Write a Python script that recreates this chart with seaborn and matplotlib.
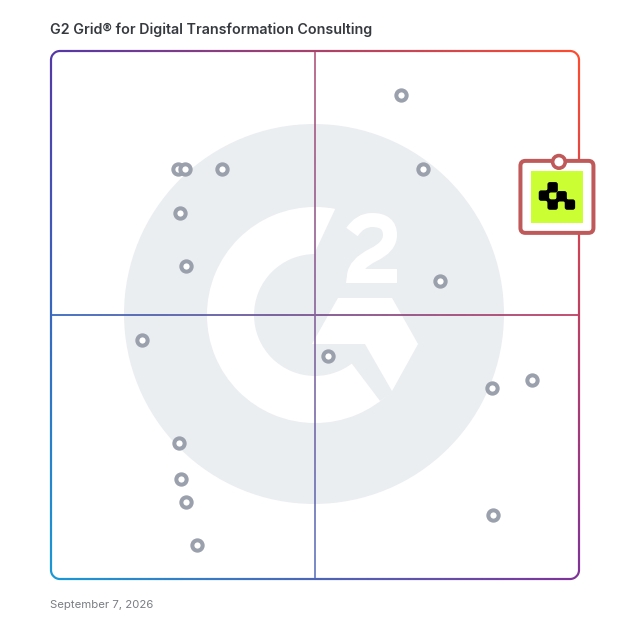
# G2 Grid for Digital Transformation Consulting

import numpy as np
import pandas as pd
import seaborn as sns
import matplotlib.pyplot as plt
from matplotlib.patches import Circle, FancyBboxPatch, PathPatch, Polygon, Rectangle, Wedge
from matplotlib.path import Path

# Product positions (0-100 on both axes)
satisfaction = [66.3, 70.5, 24.1, 25.4, 32.4, 24.4, 25.6, 73.7, 17.2, 52.5, 91.1, 83.6, 24.3, 24.6, 25.6, 83.7, 27.7]
market_presence = [91.7, 77.7, 77.7, 77.7, 77.7, 69.3, 59.3, 56.4, 45.3, 42.2, 37.7, 36.2, 25.8, 18.9, 14.6, 12.1, 6.4]
featured_satisfaction = [96.2]
featured_presence = [79.0]

title_text = 'G2 Grid® for Digital Transformation Consulting'
date_text = 'September 7, 2026'

SIZE = 628
BOX_LEFT, BOX_RIGHT = 51, 579
BOX_TOP, BOX_BOTTOM = 51, 579
SCALE = (BOX_RIGHT - BOX_LEFT) / 100
CARD_RED = '#c05a5a'
WATERMARK = '#ebeef1'

sns.set_theme(style='white')
plt.rcParams['font.family'] = ['Inter', 'DejaVu Sans']

fig = plt.figure(figsize=(SIZE / 100, SIZE / 100), dpi=100, facecolor='white')

# background layer works in pixels, y going down
bg = fig.add_axes([0, 0, 1, 1])
bg.set_xlim(0, SIZE)
bg.set_ylim(SIZE, 0)
bg.axis('off')

# G2 watermark
bg.add_patch(Circle((314, 314), 190, fc=WATERMARK, ec='none'))
bg.add_patch(Wedge((315, 315), 108, 0, 360, width=47, fc='white', ec='none'))
# cut the mouth of the G back out
bg.add_patch(Polygon([(315, 315), (315, 252), (337, 205), (420, 190), (500, 315), (380, 401)],
                     fc=WATERMARK, ec='none'))
bg.add_patch(Polygon([(338, 298), (392, 298), (418, 344), (392, 391), (365, 344), (312, 344)],
                     fc='white', ec='none'))
two = Path(
    [(352, 232), (360, 220), (372, 220), (390, 220), (390, 235), (390, 247), (373, 255),
     (355, 264), (354, 276), (397, 276)],
    [Path.MOVETO, Path.CURVE3, Path.CURVE3, Path.CURVE3, Path.CURVE3, Path.CURVE3, Path.CURVE3,
     Path.CURVE3, Path.CURVE3, Path.LINETO])
bg.add_patch(PathPatch(two, fc='none', ec='white', lw=14 * 0.72, capstyle='butt', joinstyle='miter'))

# gradient frame and cross lines, colour blended from the four corners
yy, xx = np.mgrid[0:SIZE, 0:SIZE] + 0.5
u = np.clip((xx - BOX_LEFT) / (BOX_RIGHT - BOX_LEFT), 0, 1)[..., None]
v = np.clip((yy - BOX_TOP) / (BOX_BOTTOM - BOX_TOP), 0, 1)[..., None]
top_left = np.array([0.33, 0.22, 0.66])
top_right = np.array([1.00, 0.30, 0.18])
bottom_left = np.array([0.10, 0.60, 0.84])
bottom_right = np.array([0.50, 0.20, 0.60])
rgb = (1 - v) * ((1 - u) * top_left + u * top_right) + v * ((1 - u) * bottom_left + u * bottom_right)

half = (BOX_RIGHT - BOX_LEFT) / 2
cx, cy = BOX_LEFT + half, BOX_TOP + half
radius = 9
qx = np.abs(xx - cx) - (half - radius)
qy = np.abs(yy - cy) - (half - radius)
sdf = np.hypot(np.maximum(qx, 0), np.maximum(qy, 0)) + np.minimum(np.maximum(qx, qy), 0) - radius
alpha = np.clip(1.6 - np.abs(sdf), 0, 1)
inside = sdf < 0
cross_h = np.clip(1.5 - np.abs(yy - cy), 0, 1) * inside
cross_v = np.clip(1.5 - np.abs(xx - cx), 0, 1) * inside
alpha = np.maximum(alpha, np.maximum(cross_h * 0.9, cross_v * 0.75))
bg.imshow(np.dstack([rgb, alpha]), extent=(0, SIZE, SIZE, 0), interpolation='nearest', zorder=3, aspect='auto')
bg.set_xlim(0, SIZE)
bg.set_ylim(SIZE, 0)

# data layer
ax = fig.add_axes([BOX_LEFT / SIZE, 1 - BOX_BOTTOM / SIZE, (BOX_RIGHT - BOX_LEFT) / SIZE, (BOX_BOTTOM - BOX_TOP) / SIZE])
ax.set_xlim(0, 100)
ax.set_ylim(0, 100)
ax.axis('off')
ax.patch.set_alpha(0)

df = pd.DataFrame({'satisfaction': satisfaction, 'market_presence': market_presence})
sns.scatterplot(data=df, x='satisfaction', y='market_presence', ax=ax, s=55, color='white',
                edgecolor='#9aa0ac', linewidth=2.9, zorder=4, clip_on=False, legend=False)

# featured product card, hung from its data point
card_x = BOX_LEFT + featured_satisfaction[0] * SCALE
card_y = BOX_BOTTOM - featured_presence[0] * SCALE
card_left = card_x - 38.5
card_top = card_y - 1
bg.add_patch(FancyBboxPatch((card_left + 5, card_top + 5), 63, 62, boxstyle='round,pad=5,rounding_size=5',
                            fc='white', ec=CARD_RED, lw=4 * 0.72, zorder=5))
bg.add_patch(Rectangle((card_left + 11, card_top + 10), 52, 52, fc='#ccff33', ec='none', zorder=6))
# logo blobs, joined corner to corner
blobs = [(-6.3, 25.4), (-15, 33.7), (-6.3, 42.7), (2.7, 34.4), (11, 42.7)]
for bx, by in blobs:
    bg.add_patch(FancyBboxPatch((card_x + bx - 3, card_y + by - 3), 6, 6, boxstyle='round,pad=2.2,rounding_size=2.4',
                                fc='black', ec='none', zorder=7))
for (x0, y0), (x1, y1) in zip(blobs[:-1], blobs[1:]):
    bg.plot([card_x + x0, card_x + x1], [card_y + y0, card_y + y1], color='black', lw=4 * 0.72, zorder=7)
bg.add_patch(Circle((card_x, card_y), 6.3, fc='white', ec=CARD_RED, lw=3.6 * 0.72, zorder=8))
bg.set_xlim(0, SIZE)
bg.set_ylim(SIZE, 0)

ax.set_zorder(1)
bg.set_zorder(0)

fig.text(50 / SIZE, 1 - 29.5 / SIZE, title_text, fontsize=10.27, fontweight='semibold', color='#363a3f', va='center', ha='left')
fig.text(50 / SIZE, 1 - 604.5 / SIZE, date_text, fontsize=8.2, color='#7a7d82', va='center', ha='left')

fig.savefig('out.png', dpi=100, facecolor='white')
